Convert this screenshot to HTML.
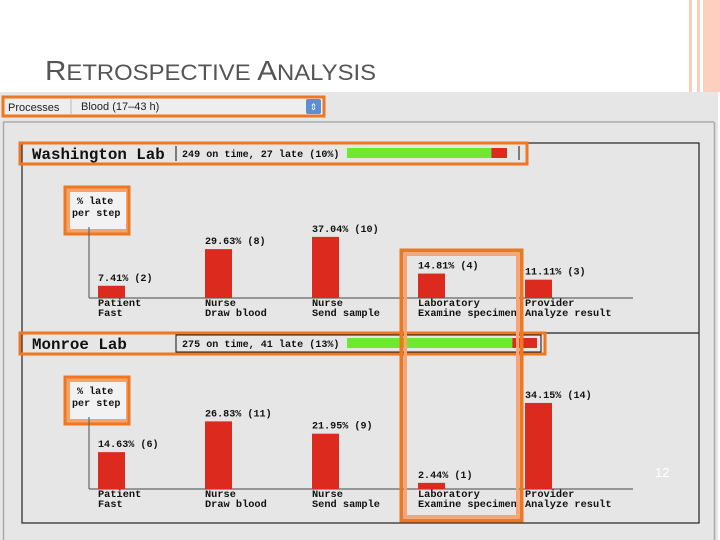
<!DOCTYPE html>
<html><head><meta charset="utf-8"><style>
body{margin:0;width:720px;height:540px;overflow:hidden;background:#fff;font-family:"Liberation Sans",sans-serif}
svg{display:block}
.mono{font-family:"Liberation Mono",monospace;font-weight:bold}
</style></head><body>
<svg id="s" width="720" height="540" viewBox="0 0 720 540">
<rect x="0" y="92" width="718" height="448" fill="#e6e6e6"/>
<rect x="689" y="0" width="3" height="92" fill="#fbcdb8"/>
<rect x="697" y="0" width="3" height="92" fill="#fbcdb8"/>
<rect x="703" y="0" width="17" height="92" fill="#fcd0bc"/>
<text x="45" y="80" fill="#555" font-size="22.5" textLength="331" lengthAdjust="spacingAndGlyphs"><tspan font-size="28">R</tspan>ETROSPECTIVE <tspan font-size="28">A</tspan>NALYSIS</text>
<line x1="3" y1="122" x2="714" y2="122" stroke="#aaa" stroke-width="1.5"/>
<line x1="3.5" y1="122" x2="3.5" y2="540" stroke="#aaa" stroke-width="1.5"/>
<line x1="714.5" y1="122" x2="714.5" y2="540" stroke="#aaa" stroke-width="1.5"/>
<g>
<rect x="3" y="97" width="321" height="19" fill="#eee" stroke="#ee7722" stroke-width="3"/>
<text x="8" y="111" font-size="11" fill="#222">Processes</text>
<line x1="71" y1="99" x2="71" y2="115" stroke="#bbb"/>
<text x="81" y="110" font-size="11" fill="#222">Blood (17–43 h)</text>
<rect x="306" y="99" width="15" height="15" fill="#5b8ed6" rx="2"/>
<text x="313.5" y="110" font-size="9" fill="#fff" text-anchor="middle">⇕</text>
</g>
<rect x="22" y="143" width="677" height="380" fill="none" stroke="#222" stroke-width="1.2"/>
<line x1="22" y1="333" x2="699" y2="333" stroke="#222" stroke-width="1.2"/>
<g id="charts"></g>
<text x="655" y="477" fill="#fff" font-size="13">12</text>
</svg>
<script>
const categories1=["Patient","Nurse","Nurse","Laboratory","Provider"];
const categories2=["Fast","Draw blood","Send sample","Examine specimen","Analyze result"];
const washPct=[7.41,29.63,37.04,14.81,11.11];
const washCnt=[2,8,10,4,3];
const monPct=[14.63,26.83,21.95,2.44,34.15];
const monCnt=[6,11,9,1,14];
const labNames=["Washington Lab","Monroe Lab"];
const onTime=[249,275];
const late=[27,41];
const NS="http://www.w3.org/2000/svg";
const g=document.getElementById('charts');
function el(t,a,p){const e=document.createElementNS(NS,t);for(const k in a)e.setAttribute(k,a[k]);(p||g).appendChild(e);return e;}
function txt(x,y,s,size,p){const t=el('text',{x:x,y:y,'font-size':size,fill:'#111',class:'mono'},p);t.textContent=s;return t;}
const xs=[98,205,312,418,525];
function panel(idx,pct,cnt,top,base,pxPer,boxRight,statRight){
  const grp=el('g',{});
  
  
  const hdr=el('rect',{x:20,y:top,width:boxRight-20,height:21,fill:'none',stroke:'#ee7722','stroke-width':3},grp);
  
  
  const tt=txt(32,top+16,labNames[idx],15.8,grp);
  
  
  el('line',{x1:176,y1:top+3,x2:176,y2:top+18,stroke:'#111'},grp);
  const tot=onTime[idx]+late[idx];
  const st=txt(182,top+14,onTime[idx]+" on time, "+late[idx]+" late ("+Math.round(late[idx]/tot*100)+"%)",10.1,grp);
  
  
  const bx=347,bw=statRight-bx;
  const gw=bw*onTime[idx]/tot;
  el('rect',{x:bx,y:top+5,width:gw,height:10,fill:'#6fe830'},grp);
  el('rect',{x:bx+gw,y:top+5,width:bw*late[idx]/tot,height:10,fill:'#dd2a1e'},grp);
  const yb=top+44;
  el('rect',{x:65,y:yb,width:64,height:47,fill:'#f5a36a',stroke:'#ee7722','stroke-width':3},grp);
  el('rect',{x:70,y:yb+5,width:56,height:37,fill:'#f2f2f2'},grp);
  const l1=txt(77,yb+17,"% late",10.1,grp);
  
  
  txt(72,yb+29,"per step",10.1,grp);
  el('line',{x1:89,y1:yb+40,x2:89,y2:base,stroke:'#666','stroke-width':1.2},grp);
  el('line',{x1:89,y1:base,x2:633,y2:base,stroke:'#666','stroke-width':1.2},grp);
  pct.forEach((v,i)=>{
    const h=v*pxPer;
    const r=el('rect',{x:xs[i],y:base-h,width:27,height:h,fill:'#dd2a1e'},grp);
    
    
    const vl=txt(xs[i],base-h-5,v.toFixed(2)+"% ("+cnt[i]+")",10.1,grp);
    
    
    const c1=txt(xs[i],base+8,categories1[i],10.3,grp);
    
    
    txt(xs[i],base+18,categories2[i],10.3,grp);
  });
}
panel(0,washPct,washCnt,143,298,1.65,527,507);
panel(1,monPct,monCnt,333,489,2.52,545,537);
el('rect',{x:176,y:335,width:365,height:17,fill:'none',stroke:'#111'});
el('line',{x1:519,y1:146,x2:519,y2:160,stroke:'#111'});
const hl=el('rect',{x:401.5,y:250.5,width:120,height:270,fill:'none',stroke:'#ee7722','stroke-width':4});


el('rect',{x:405.5,y:254.5,width:112,height:262,fill:'none',stroke:'#f7a574','stroke-width':3});
</script>
</body></html>
